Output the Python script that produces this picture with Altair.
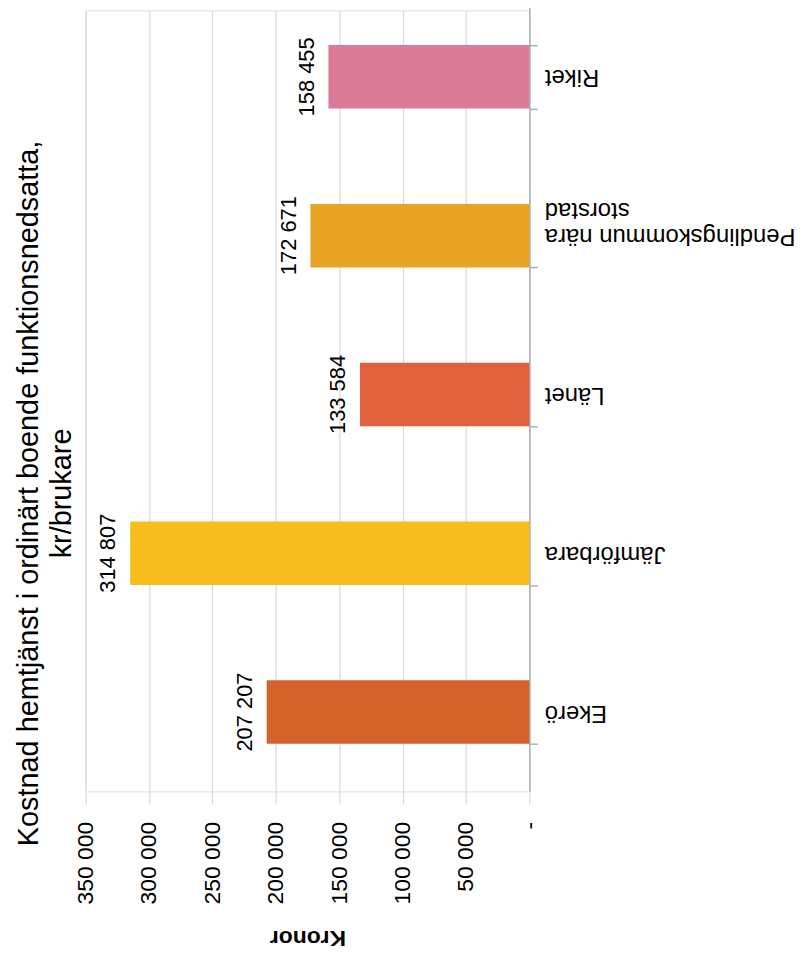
import altair as alt
import pandas as pd

categories = ["Ekerö", "Jämförbara", "Länet", "Pendlingskommun nära storstad", "Riket"]
values = [207207, 314807, 133584, 172671, 158455]
value_labels = ["207 207", "314 807", "133 584", "172 671", "158 455"]
colors = ["#d4632b", "#f6bd1d", "#e1603d", "#e8a323", "#dc7b98"]
x_ticks = [0, 50000, 100000, 150000, 200000, 250000, 300000, 350000]
title_lines = ["Kostnad hemtjänst i ordinärt boende funktionsnedsatta,", "kr/brukare"]

df = pd.DataFrame({"cat": categories, "value": values, "label": value_labels})

FONT = "Liberation Sans"
order = list(reversed(categories))

x_enc = alt.X(
    "value:Q",
    scale=alt.Scale(domain=[0, 350000], reverse=True, nice=False, zero=True),
    axis=alt.Axis(
        values=x_ticks,
        labelExpr="datum.value == 0 ? '-' : replace(format(datum.value, ','), ',', ' ')",
        labelAngle=270,
        labelAlign="right",
        labelBaseline="middle",
        labelPadding=30,
        labelFontSize=23,
        labelFont=FONT,
        labelColor="#000000",
        ticks=False,
        domain=False,
        grid=True,
        gridColor="#d9d9d9",
        gridWidth=1.2,
        title="Kronor",
        titleAngle=180,
        titleBaseline="bottom",
        titleFont=FONT,
        titleFontSize=23,
        titleFontWeight="bold",
        titleColor="#000000",
        titlePadding=22,
    ),
)

y_enc = alt.Y(
    "cat:N",
    sort=order,
    scale=alt.Scale(domain=order, paddingInner=0.6, paddingOuter=0.3, range=[-13, 785]),
    axis=alt.Axis(
        orient="right",
        labelAngle=180,
        labelAlign="right",
        labelBaseline="middle",
        labelPadding=7,
        labelFontSize=24,
        labelFont=FONT,
        labelColor="#000000",
        labelLimit=0,
        labelExpr="datum.value == 'Pendlingskommun nära storstad' ? ['Pendlingskommun nära', 'storstad'] : datum.value",
        ticks=True,
        tickBand="extent",
        tickSize=8,
        tickColor="#a8b1b8",
        tickWidth=1.5,
        domain=True,
        domainColor="#a8b1b8",
        domainWidth=1.5,
        grid=False,
        title=None,
    ),
)

bars = alt.Chart(df).mark_bar().encode(
    x=x_enc,
    y=y_enc,
    color=alt.Color("cat:N", scale=alt.Scale(domain=categories, range=colors), legend=None),
)

text = alt.Chart(df).mark_text(
    angle=270, align="center", baseline="middle", dy=-22,
    font=FONT, fontSize=22, color="#000000",
).encode(
    x=alt.X("value:Q"),
    y=alt.Y("cat:N", sort=order),
    text="label:N",
)

chart = (
    alt.layer(bars, text)
    .properties(
        width=446,
        height=785,
        title=alt.TitleParams(
            title_lines,
            orient="left",
            anchor="middle",
            frame="group",
            font=FONT,
            fontSize=29,
            fontWeight="normal",
            color="#000000",
            offset=-2,
            lineHeight=33,
            dx=-93,
        ),
        autosize=alt.AutoSizeParams(type="none"),
        padding={"top": 0, "left": 78, "right": 270, "bottom": 165},
    )
    .configure_view(stroke=None)
    .configure(background="#ffffff")
)

chart.save("out.html", embed_options={"renderer": "svg", "actions": False})
